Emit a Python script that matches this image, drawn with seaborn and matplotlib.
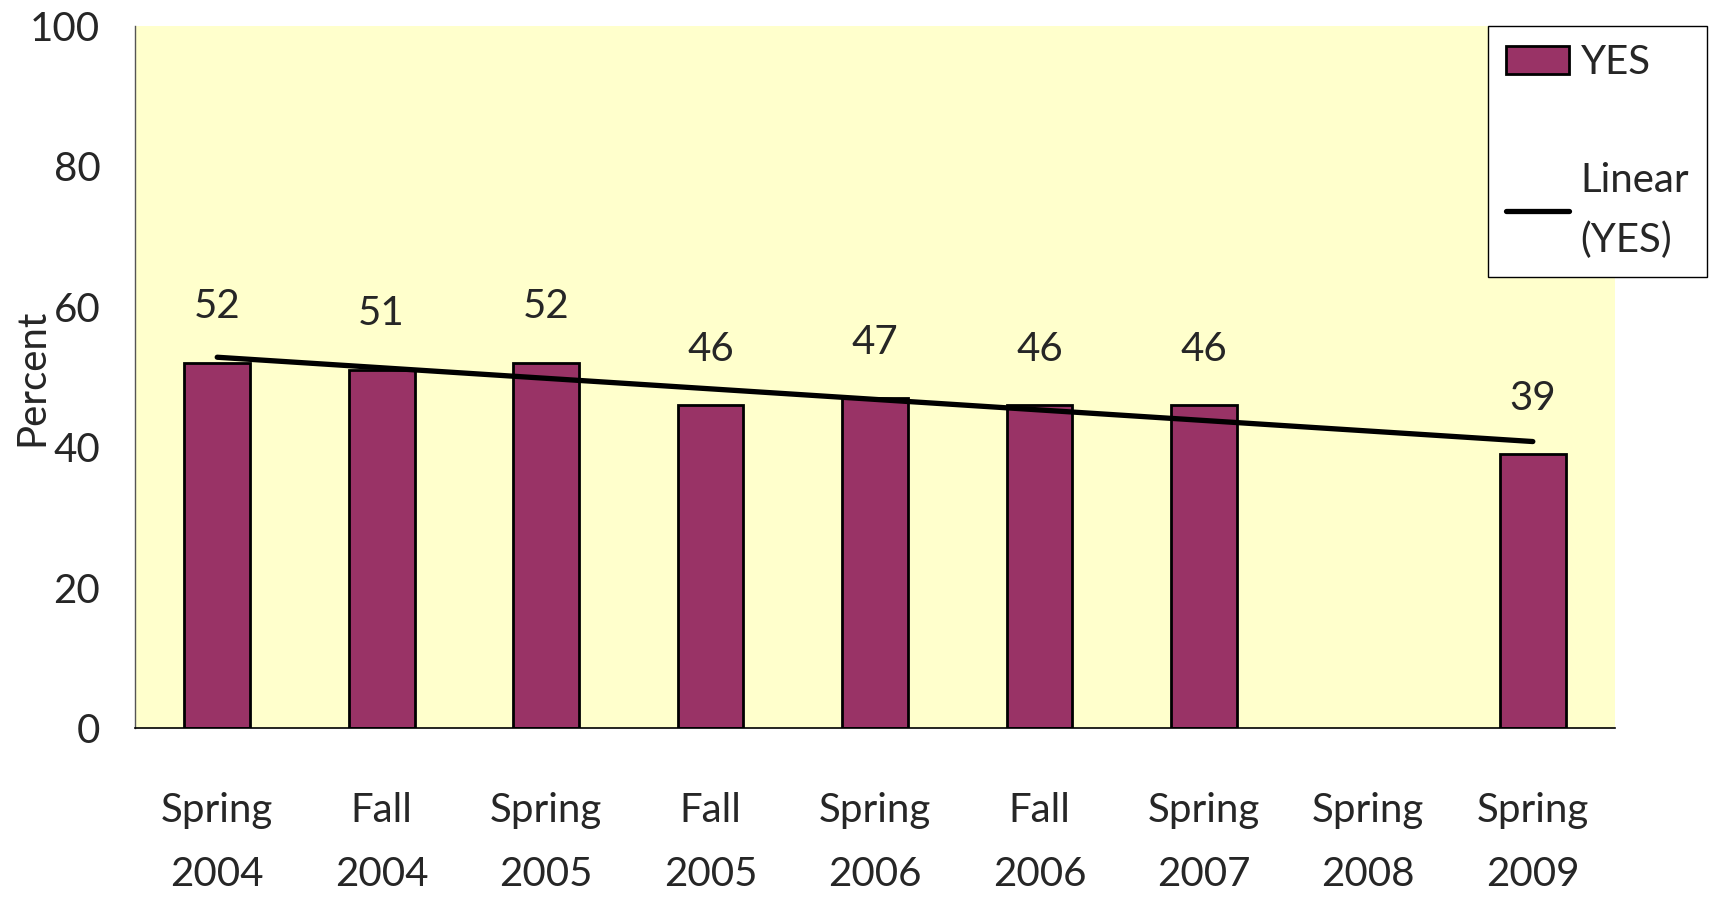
import matplotlib
matplotlib.use("Agg")
import matplotlib.pyplot as plt
import numpy as np
import pandas as pd
import seaborn as sns

# data
semesters = ["Spring\n2004", "Fall\n2004", "Spring\n2005", "Fall\n2005", "Spring\n2006",
             "Fall\n2006", "Spring\n2007", "Spring\n2008", "Spring\n2009"]
yes_pct = [52, 51, 52, 46, 47, 46, 46, np.nan, 39]
y_ticks = [0, 20, 40, 60, 80, 100]

df = pd.DataFrame({"semester": semesters, "yes": yes_pct})
df["pos"] = np.arange(len(semesters))

sns.set_style("white")
plt.rcParams["font.family"] = ["Lato", "DejaVu Sans"]
FS = 29

fig = plt.figure(figsize=(17.24, 9), dpi=100)
ax = fig.add_axes([0.0783, 0.1911, 0.8585, 0.78])
ax.set_facecolor("#FFFFCC")

# bars
sns.barplot(data=df, x="semester", y="yes", order=semesters, color="#993366",
            saturation=1, width=0.4, edgecolor="black", linewidth=2,
            errorbar=None, label="YES", ax=ax)

# value labels above the bars
for bar in ax.patches:
    h = bar.get_height()
    if np.isfinite(h) and h > 0:
        ax.annotate(f"{h:.0f}", (bar.get_x() + bar.get_width() / 2, h),
                    xytext=(0, 27), textcoords="offset points",
                    ha="center", va="bottom", fontsize=FS)

# linear trend line over the available points
valid = df.dropna()
sns.regplot(data=valid, x="pos", y="yes", scatter=False, ci=None, truncate=True,
            line_kws={"color": "black", "linewidth": 3.8, "solid_capstyle": "round"},
            label="Linear\n(YES)", ax=ax)

ax.set_xlim(-0.5, len(semesters) - 0.5)
ax.set_ylim(0, 100)
ax.set_yticks(y_ticks)
ax.set_xticks(range(len(semesters)))
ax.set_xticklabels(semesters, fontsize=FS, linespacing=1.9)
ax.set_xticks(np.arange(-0.5, len(semesters), 1), minor=True)
ax.tick_params(axis="x", which="major", length=0, pad=46)
ax.tick_params(axis="x", which="minor", length=11, width=1, color="#555555", direction="out")
ax.tick_params(axis="y", labelsize=FS, length=11, width=1, direction="in", pad=25, color="#555555")
ax.set_xlabel("")
ax.set_ylabel("Percent", fontsize=FS)
ax.yaxis.set_label_coords(-0.0574, 0.5)

for s in ["top", "right"]:
    ax.spines[s].set_visible(False)
ax.spines["left"].set_color("#555555")
ax.spines["bottom"].set_color("black")
ax.spines["left"].set_linewidth(1)
ax.spines["bottom"].set_linewidth(1.2)

# legend: bars first, then the trend line
handles, labels = ax.get_legend_handles_labels()
order = [labels.index("YES"), labels.index("Linear\n(YES)")]
leg = ax.legend([handles[i] for i in order], [labels[i] for i in order],
                loc="upper left", bbox_to_anchor=(1488 / 1724, 1 - 26 / 900),
                bbox_transform=fig.transFigure, fontsize=FS, frameon=True,
                fancybox=False, edgecolor="black", framealpha=1, facecolor="white",
                borderpad=0.45, labelspacing=2.0, handlelength=1.55, handleheight=0.7,
                handletextpad=0.3, borderaxespad=0)
for t in leg.get_texts():
    t.set_linespacing(1.75)
leg.get_frame().set_linewidth(1)

fig.savefig("out.png", dpi=100)
